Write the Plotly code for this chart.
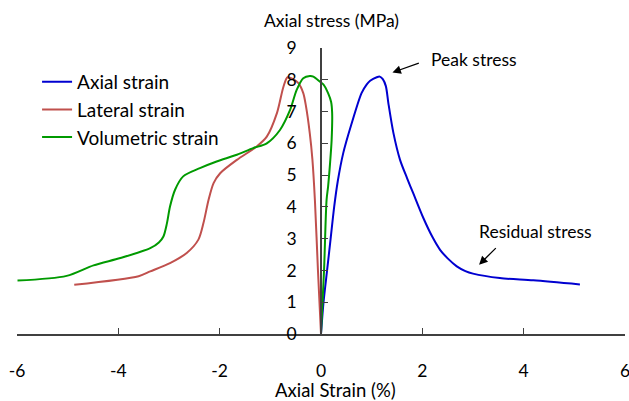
import plotly.graph_objects as go

# Stress-strain curves (strain in %, stress in MPa)
axial_x = [0, 0.05, 0.12, 0.19, 0.26, 0.33, 0.44, 0.6, 0.8, 0.9, 0.97, 1.1,
           1.16, 1.22, 1.28, 1.33, 1.43, 1.56, 1.7, 1.82, 2.02, 2.2, 2.35,
           2.5, 2.68, 2.85, 3.0, 3.53, 4.19, 5.11]
axial_y = [0, 1.0, 2.0, 3.0, 4.0, 4.8, 5.7, 6.6, 7.58, 7.85, 7.97, 8.08,
           8.1, 8.02, 7.8, 7.26, 6.32, 5.48, 4.9, 4.43, 3.65, 3.05, 2.65,
           2.38, 2.13, 1.98, 1.9, 1.76, 1.69, 1.56]

lateral_x = [0, -0.06, -0.12, -0.17, -0.22, -0.3, -0.35, -0.45, -0.55, -0.66,
             -0.74, -0.87, -1.07, -1.27, -1.66, -1.99, -2.12, -2.22, -2.32,
             -2.42, -2.65, -2.98, -3.37, -3.6, -4.87]
lateral_y = [0, 2.0, 4.2, 5.5, 6.3, 7.2, 7.58, 7.9, 8.02, 8.08,
             7.79, 6.95, 6.21, 5.9, 5.48, 5.06, 4.75, 4.22, 3.49,
             2.97, 2.55, 2.23, 1.97, 1.82, 1.55]

volumetric_x = [0, 0.06, 0.11, 0.14, 0.18, 0.21, 0.22, 0.2, 0.14, 0.05, -0.02,
                -0.15, -0.22, -0.35, -0.48, -0.61, -0.81, -1.07, -1.34, -1.66,
                -2.06, -2.39, -2.72, -2.88, -2.98, -3.04, -3.11, -3.2, -3.37,
                -3.96, -4.49, -5.02, -5.99]
volumetric_y = [0, 2.0, 4.22, 4.64, 5.4, 6.11, 6.95, 7.3, 7.58, 7.85, 7.94,
                8.1, 8.12, 8.05, 7.68, 7.05, 6.42, 6.0, 5.85, 5.64,
                5.43, 5.22, 4.96, 4.54, 4.01, 3.49, 3.07, 2.88, 2.7,
                2.39, 2.16, 1.83, 1.68]

x_ticks = [-6, -4, -2, 0, 2, 4, 6]
x_tick_labels = ["-6", "-4", "-2", "0", "2", "4", "6"]
y_ticks = [0, 1, 2, 3, 4, 5, 6, 7, 8, 9]

FONT = "Lato"
TEXT = "#000000"
AXIS = "#404040"

fig = go.Figure()
series = [
    ("Axial strain", axial_x, axial_y, "#0000D0"),
    ("Lateral strain", lateral_x, lateral_y, "#C0504D"),
    ("Volumetric strain", volumetric_x, volumetric_y, "#009A00"),
]
for name, xs, ys, color in series:
    fig.add_trace(go.Scatter(
        x=xs, y=ys, mode="lines", name=name, legendgroup=name,
        line=dict(color=color, width=2, shape="spline", smoothing=0.8),
    ))

fig.update_layout(
    width=629, height=401,
    margin=dict(l=17, r=4, t=48, b=67),
    paper_bgcolor="white", plot_bgcolor="white",
    font=dict(family=FONT, size=17, color=TEXT),
    legend=dict(
        x=0.033, y=0.948, xanchor="left", yanchor="top",
        bgcolor="rgba(0,0,0,0)", tracegroupgap=0,
        font=dict(family=FONT, size=19, color=TEXT),
    ),
    xaxis=dict(
        range=[-6, 6], tickvals=x_ticks, ticktext=x_tick_labels,
        ticks="inside", ticklen=6, tickcolor=AXIS, showline=True,
        linecolor=AXIS, linewidth=1.5, showgrid=False, zeroline=False,
        ticklabelstandoff=20, ticklabeloverflow="allow", automargin=False,
        tickfont=dict(family=FONT, size=17.5, color=TEXT),
    ),
    yaxis=dict(
        range=[0, 9], tickvals=y_ticks, ticks="inside", ticklen=6,
        tickcolor=AXIS, showline=True, linecolor=AXIS, linewidth=1.5,
        showgrid=False, zeroline=False, anchor="free", position=0.5,
        ticklabelstandoff=20, ticklabeloverflow="allow", automargin=False,
        tickfont=dict(family=FONT, size=17.5, color=TEXT),
    ),
)

# Axis titles
fig.add_annotation(text="Axial stress (MPa)", xref="paper", yref="paper",
                   x=0.518, y=1.0, yshift=28, yanchor="middle", showarrow=False,
                   font=dict(family=FONT, size=17.5, color=TEXT))
fig.add_annotation(text="Axial Strain (%)", xref="paper", yref="paper",
                   x=0.524, y=0, yshift=-56, yanchor="middle", showarrow=False,
                   font=dict(family=FONT, size=18.5, color=TEXT))

# Callouts
fig.add_annotation(x=1.41, y=8.23, ax=1.96, ay=8.54, xref="x", yref="y",
                   axref="x", ayref="y", text="", showarrow=True,
                   arrowhead=2, arrowsize=1.3, arrowwidth=1.3, arrowcolor="black")
fig.add_annotation(x=3.02, y=8.63, text="Peak stress", showarrow=False,
                   font=dict(family=FONT, size=17.5, color=TEXT))
fig.add_annotation(x=3.12, y=2.18, ax=3.48, ay=2.75, xref="x", yref="y",
                   axref="x", ayref="y", text="", showarrow=True,
                   arrowhead=2, arrowsize=1.3, arrowwidth=1.3, arrowcolor="black")
fig.add_annotation(x=4.24, y=3.21, text="Residual stress", showarrow=False,
                   font=dict(family=FONT, size=17.5, color=TEXT))

fig.write_html("out.html")
